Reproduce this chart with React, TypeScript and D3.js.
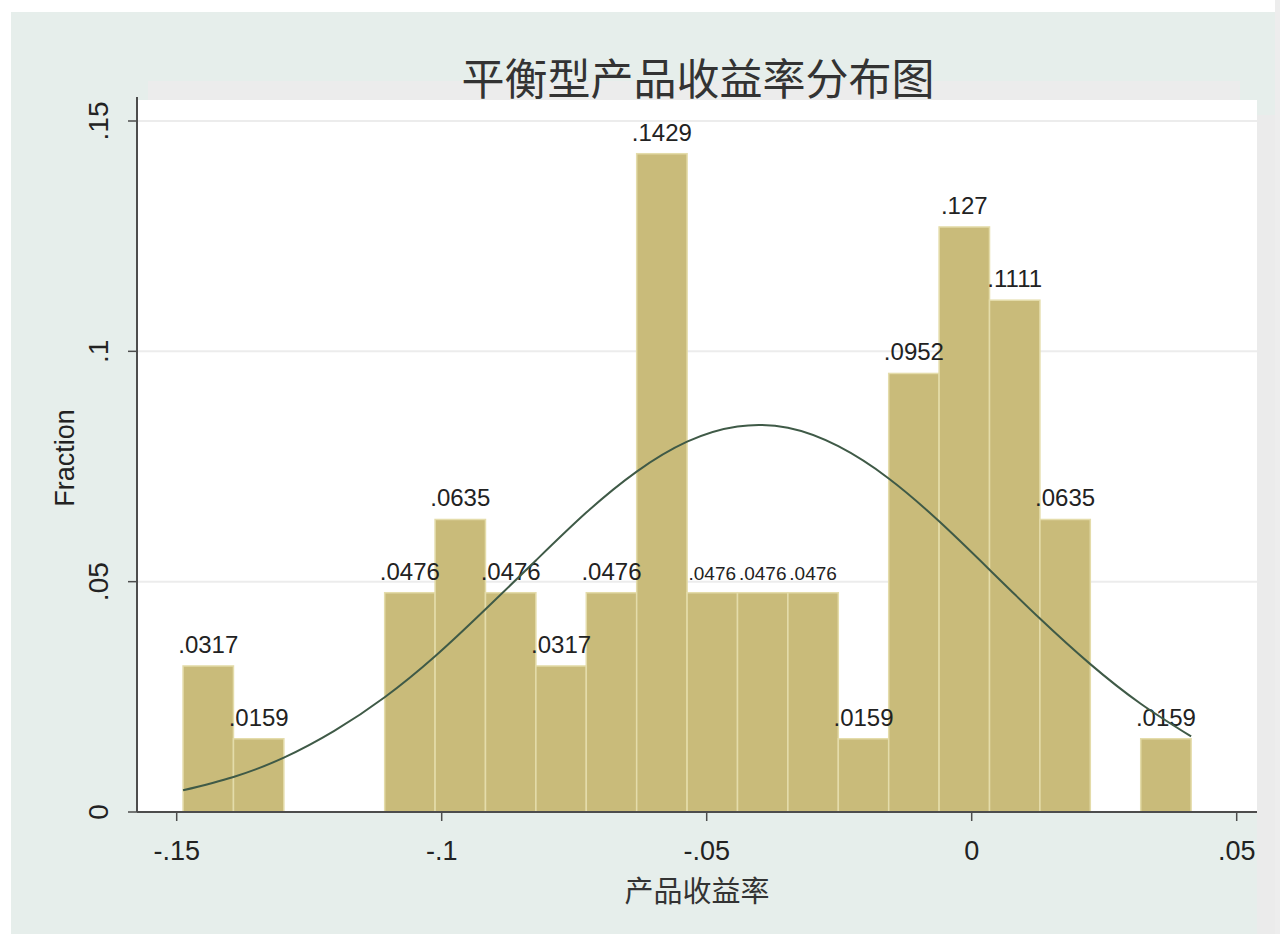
import * as d3 from "d3";

// histogram of returns, fraction per bin
const binStart = -0.1488;
const binWidth = 0.00951;
const fractions = [
  0.0317, 0.0159, 0, 0, 0.0476, 0.0635, 0.0476, 0.0317, 0.0476, 0.1429,
  0.0476, 0.0476, 0.0476, 0.0159, 0.0952, 0.127, 0.1111, 0.0635, 0, 0.0159,
];

// normal overlay, read at each bin edge
const curveVals = [
  0.0047, 0.0076, 0.0118, 0.0176, 0.0249, 0.0338, 0.044, 0.0546, 0.065, 0.0739,
  0.0804, 0.0837, 0.0834, 0.0794, 0.0724, 0.0631, 0.0526, 0.042, 0.0321, 0.0235,
  0.0164,
];

const xTicks = [-0.15, -0.1, -0.05, 0, 0.05];
const yTicks = [0, 0.05, 0.1, 0.15];

const title = "平衡型产品收益率分布图";
const xTitle = "产品收益率";
const yTitle = "Fraction";

const W = 1280;
const H = 934;
const plot = { left: 137, right: 1257, top: 100, bottom: 812 };

const latin = "'Liberation Sans', Arial, sans-serif";
const cjk = "'Noto Sans CJK SC', sans-serif";

const stataFmt = (v: number) => String(v).replace(/^(-?)0\./, "$1.");

export default function App() {
  const x = d3.scaleLinear().domain([-0.15, 0.05]).range([176.7, 1236.7]);
  const y = d3.scaleLinear().domain([0, 0.15]).range([812, 121]);

  const edges = curveVals.map((_, i) => binStart + i * binWidth);
  const line = d3
    .line<number>()
    .x((_, i) => x(edges[i]))
    .y((d) => y(d))
    .curve(d3.curveNatural);

  // labels of neighbouring equal bars run into each other, use a smaller size there
  const crowded = (i: number) =>
    fractions[i - 1] === fractions[i] || fractions[i + 1] === fractions[i];

  return (
    <div style={{ position: "absolute", left: 0, top: 0 }}>
      <svg width={W} height={H} style={{ display: "block" }}>
        <rect x={0} y={0} width={W} height={H} fill="#ffffff" />
        <rect x={11} y={12} width={1264} height={H - 12} fill="#e6eeeb" />
        <rect x={1275} y={0} width={5} height={H} fill="#ededed" />
        <rect x={plot.right} y={115} width={18} height={H - 115} fill="#ebebeb" />
        <rect x={148} y={81} width={1092} height={19} fill="#ececec" />
        <rect
          x={plot.left}
          y={plot.top}
          width={plot.right - plot.left}
          height={plot.bottom - plot.top}
          fill="#ffffff"
        />

        {/* grid */}
        {yTicks.slice(1).map((t) => (
          <line
            key={"g" + t}
            x1={plot.left}
            x2={plot.right}
            y1={y(t)}
            y2={y(t)}
            stroke="#ececec"
            strokeWidth={2}
          />
        ))}

        {/* bars */}
        {fractions.map((f, i) =>
          f > 0 ? (
            <rect
              key={"b" + i}
              x={x(binStart + i * binWidth)}
              y={y(f)}
              width={x(binStart + (i + 1) * binWidth) - x(binStart + i * binWidth)}
              height={y(0) - y(f)}
              fill="#c9bb7a"
              stroke="#e4dcaa"
              strokeWidth={1.5}
            />
          ) : null
        )}

        {/* bar labels */}
        {fractions.map((f, i) =>
          f > 0 ? (
            <text
              key={"l" + i}
              x={x(binStart + (i + 0.5) * binWidth)}
              y={y(f) - 13}
              textAnchor="middle"
              fontFamily={latin}
              fontSize={crowded(i) ? 19 : 24}
              fill="#222"
            >
              {stataFmt(f)}
            </text>
          ) : null
        )}

        {/* normal curve */}
        <path d={line(curveVals) || ""} fill="none" stroke="#3f5a47" strokeWidth={2} />

        {/* axes */}
        <line x1={plot.left} x2={plot.left} y1={97} y2={plot.bottom} stroke="#4d4d4d" strokeWidth={2} />
        <line x1={plot.left} x2={plot.right} y1={plot.bottom} y2={plot.bottom} stroke="#4d4d4d" strokeWidth={2} />

        {yTicks.map((t) => (
          <g key={"y" + t}>
            <line x1={plot.left - 9} x2={plot.left} y1={y(t)} y2={y(t)} stroke="#4d4d4d" strokeWidth={1.5} />
            <text
              transform={`translate(${108},${y(t)}) rotate(-90)`}
              textAnchor="middle"
              fontFamily={latin}
              fontSize={28}
              fill="#222"
            >
              {stataFmt(t)}
            </text>
          </g>
        ))}

        {xTicks.map((t) => (
          <g key={"x" + t}>
            <line x1={x(t)} x2={x(t)} y1={plot.bottom} y2={plot.bottom + 9} stroke="#4d4d4d" strokeWidth={1.5} />
            <text x={x(t)} y={860} textAnchor="middle" fontFamily={latin} fontSize={27} fill="#222">
              {stataFmt(t)}
            </text>
          </g>
        ))}

        {/* titles */}
        <text x={698} y={95} textAnchor="middle" fontFamily={cjk} fontSize={43} fill="#333">
          {title}
        </text>
        <text x={697} y={902} textAnchor="middle" fontFamily={cjk} fontSize={29} fill="#333">
          {xTitle}
        </text>
        <text
          transform={`translate(${74},${458}) rotate(-90)`}
          textAnchor="middle"
          fontFamily={latin}
          fontSize={27}
          fill="#222"
        >
          {yTitle}
        </text>
      </svg>
    </div>
  );
}
